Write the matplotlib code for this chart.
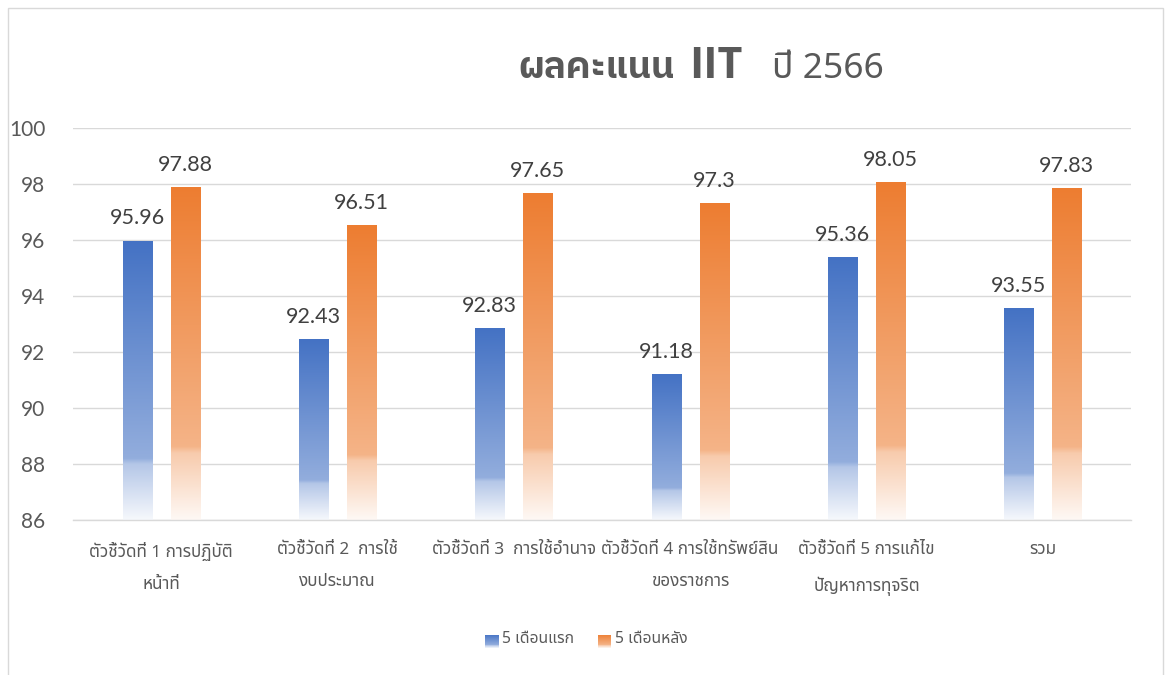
import matplotlib
matplotlib.use("Agg")
import matplotlib.pyplot as plt
import numpy as np
from matplotlib.colors import LinearSegmentedColormap, to_rgb
from matplotlib.patches import Rectangle

# ---- data ----
categories = [
    "ตัวชี้วัดที่ 1 การปฏิบัติ\nหน้าที่",
    "ตัวชี้วัดที่ 2  การใช้\nงบประมาณ",
    "ตัวชี้วัดที่ 3  การใช้อำนาจ",
    "ตัวชี้วัดที่ 4 การใช้ทรัพย์สิน\nของราชการ",
    "ตัวชี้วัดที่ 5 การแก้ไข\nปัญหาการทุจริต",
    "รวม",
]
series_names = ["5 เดือนแรก", "5 เดือนหลัง"]
first5 = [95.96, 92.43, 92.83, 91.18, 95.36, 93.55]
last5 = [97.88, 96.51, 97.65, 97.30, 98.05, 97.83]
value_labels_first = ["95.96", "92.43", "92.83", "91.18", "95.36", "93.55"]
value_labels_last = ["97.88", "96.51", "97.65", "97.3", "98.05", "97.83"]
yticks = [86, 88, 90, 92, 94, 96, 98, 100]
title_parts = ["ผลคะแนน", "IIT", "ปี 2566"]

colors = ["#4472C4", "#ED7D31"]
THAI = ["Noto Sans Thai", "Noto Sans", "DejaVu Sans"]
THAI_BOLD = ["IBM Plex Sans Thai", "Noto Sans", "DejaVu Sans"]
LATIN_BOLD = ["Open Sans", "DejaVu Sans"]
NUM = ["Lato", "DejaVu Sans"]
GREY = "#595959"


def grad_cmap(c):
    r, g, b = to_rgb(c)
    def tint(t):
        return (1 - t + t * r, 1 - t + t * g, 1 - t + t * b)
    # position 0 = bottom, 1 = top
    return LinearSegmentedColormap.from_list(
        "g", [(0.0, tint(0.05)), (0.20, tint(0.40)), (0.22, tint(0.58)), (1.0, tint(1.0))])


W, H = 1165, 675
fig = plt.figure(figsize=(W / 100, H / 100), dpi=100)
fig.patches.append(Rectangle((7.5 / W, -0.1), (1162.5 - 7.5) / W, 1.1 - 8 / H,
                             transform=fig.transFigure, fill=False,
                             edgecolor="#D9D9D9", lw=1.0))

ax = fig.add_axes([73 / W, 1 - 520 / H, (1131 - 73) / W, (520 - 128) / H])
ymin, ymax = yticks[0], yticks[-1]
x = np.arange(len(categories))
bw = 0.1645
off = 0.136
grad = np.linspace(0, 1, 256).reshape(-1, 1)

for vals, labs, c, sgn in [(first5, value_labels_first, colors[0], -1),
                           (last5, value_labels_last, colors[1], 1)]:
    heights = np.array(vals) - ymin
    bars = ax.bar(x + sgn * off, heights, bw, bottom=ymin, color="none", edgecolor="none")
    cm = grad_cmap(c)
    for p, lab in zip(bars.patches, labs):
        x0, y0, w, h = p.get_x(), p.get_y(), p.get_width(), p.get_height()
        ax.imshow(grad, extent=[x0, x0 + w, y0, y0 + h], origin="lower",
                  aspect="auto", cmap=cm, zorder=2, interpolation="bilinear")
        ax.annotate(lab, (x0 + w / 2, y0 + h), xytext=(0, 12), textcoords="offset points",
                    ha="center", va="baseline", fontsize=15.5, color="#404040", family=NUM)

ax.set_xlim(-0.5, len(categories) - 0.5)
ax.set_ylim(ymin, ymax)
ax.set_yticks(yticks)
ax.set_yticklabels([str(t) for t in yticks], fontsize=15, color=GREY, family=NUM)
ax.set_xticks(x)
ax.set_xticklabels(categories, fontsize=12.3, color=GREY, family=THAI, linespacing=2.3)
ax.tick_params(axis="both", length=0)
ax.tick_params(axis="y", pad=20)
ax.tick_params(axis="x", pad=16)
for s in ["top", "right", "left"]:
    ax.spines[s].set_visible(False)
ax.spines["bottom"].set_color("#D9D9D9")
ax.spines["bottom"].set_linewidth(1.0)
ax.yaxis.grid(True, color="#D9D9D9", lw=1.0)
ax.set_axisbelow(True)

# title
ty = 1 - 78 / H
fig.text(518 / W, ty, title_parts[0], ha="left", va="baseline", fontsize=26.5,
         fontweight="bold", color=GREY, family=THAI_BOLD)
fig.text(689 / W, ty, title_parts[1], ha="left", va="baseline", fontsize=31,
         fontweight="bold", color=GREY, family=LATIN_BOLD)
fig.text(772 / W, ty, title_parts[2], ha="left", va="baseline", fontsize=25.5,
         color=GREY, family=THAI)

# legend (manual)
leg_y = 641
for i, (name, c) in enumerate(zip(series_names, colors)):
    lx = [485, 598][i]
    lax = fig.add_axes([lx / W, 1 - (leg_y + 7) / H, 13 / W, 13 / H])
    lax.imshow(grad, origin="lower", aspect="auto", cmap=grad_cmap(c), extent=[0, 1, 0, 1])
    lax.set_axis_off()
    fig.text((lx + 17) / W, 1 - (leg_y - 2) / H, name, ha="left", va="center",
             fontsize=11.3, color=GREY, family=THAI)

fig.savefig("out.png", dpi=100)
